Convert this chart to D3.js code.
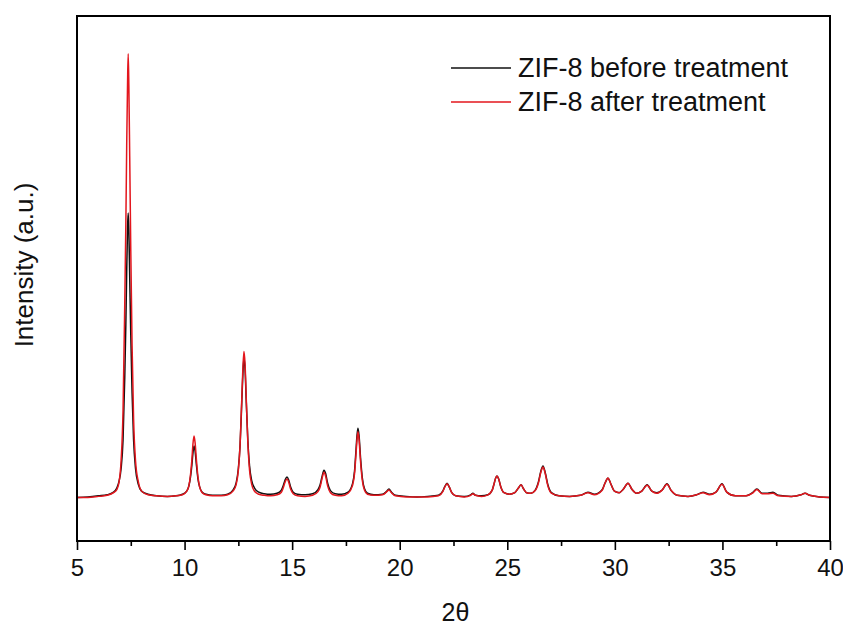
<!DOCTYPE html>
<html>
<head>
<meta charset="utf-8">
<script src="https://cdn.jsdelivr.net/npm/d3@7"></script>
<style>
  html, body { margin: 0; padding: 0; background: #fff; }
  svg { display: block; font-family: "Liberation Sans", Arial, sans-serif; }
</style>
</head>
<body>
<svg id="chart" width="843" height="625"></svg>
<script>
// XRD patterns of ZIF-8, sampled on a shared 2θ grid (denser across the reflections)
const twoTheta = [
  5.0, 5.5, 6.0, 6.4, 6.7, 6.85, 6.95, 7.05, 7.14, 7.22, 7.27, 7.31, 7.35, 7.38, 7.41, 7.45, 7.5, 7.56, 7.63, 7.72, 7.85, 8.0, 8.3, 8.7, 9.2,
  9.6, 9.9, 10.1, 10.2, 10.28, 10.34, 10.39, 10.44, 10.49, 10.55, 10.62, 10.7, 10.82, 11.0, 11.3, 11.7, 12.0, 12.25,
  12.4, 12.5, 12.58, 12.64, 12.7, 12.76, 12.81, 12.87, 12.94, 13.02, 13.12, 13.25, 13.45, 13.7, 14.0, 14.3,
  14.5, 14.6, 14.68, 14.76, 14.84, 14.93, 15.05, 15.25, 15.6, 15.95, 16.2,
  16.3, 16.38, 16.48, 16.56, 16.65, 16.78, 17.0, 17.3, 17.6, 17.8,
  17.9, 17.96, 18.02, 18.06, 18.11, 18.18, 18.26, 18.36, 18.5, 18.8, 19.2,
  19.38, 19.5, 19.62, 19.8, 20.3, 20.8, 21.3, 21.8,
  22.0, 22.1, 22.2, 22.3, 22.42, 22.6, 23.0, 23.3, 23.4, 23.52, 23.8, 24.1, 24.3,
  24.4, 24.46, 24.52, 24.6, 24.7, 24.85, 25.1, 25.35, 25.5, 25.64, 25.76, 25.9, 26.1,
  26.3, 26.45, 26.56, 26.66, 26.76, 26.88, 27.05, 27.4, 27.9, 28.4, 28.75, 29.05,
  29.4, 29.55, 29.68, 29.8, 29.98, 30.2, 30.4, 30.61, 30.8, 31.0, 31.25, 31.5, 31.72, 31.95,
  32.2, 32.42, 32.62, 32.9, 33.4, 33.8, 34.1, 34.4, 34.7, 34.98, 35.2, 35.6, 36.1,
  36.4, 36.6, 36.85, 37.1, 37.35, 37.6, 38.2, 38.65, 38.84, 39.05, 39.5, 40.0
];

const intensityBefore = [
  0, 1, 3, 5, 10, 18, 30, 55, 110, 230, 330, 430, 515, 542, 510, 420, 310, 200, 110, 55, 25, 12, 6, 3, 2,
  3, 6, 12, 22, 40, 62, 85, 98, 88, 62, 36, 20, 10, 6, 4, 4, 6, 14,
  28, 55, 100, 160, 225, 266, 245, 180, 110, 60, 32, 18, 10, 7, 6, 8,
  14, 24, 34, 39, 33, 20, 10, 6, 5, 7, 15,
  24, 38, 52, 45, 27, 13, 7, 6, 10, 25,
  50, 85, 120, 132, 118, 75, 38, 17, 8, 5, 6,
  11, 16, 10, 4, 2, 1, 2, 4,
  12, 21, 27, 20, 9, 3, 2, 5, 8, 4, 3, 5, 14,
  28, 37, 41, 35, 20, 9, 6, 9, 17, 24, 16, 9, 8,
  14, 30, 50, 60, 48, 25, 9, 3, 2, 4, 10, 6,
  14, 28, 37, 27, 12, 9, 16, 27, 15, 8, 12, 24, 12, 9,
  14, 26, 13, 4, 2, 5, 10, 6, 10, 26, 10, 3, 3,
  9, 16, 8, 8, 10, 4, 2, 5, 8, 4, 1, 0
];

const intensityAfter = [
  0, 0, 2, 4, 9, 15, 28, 70, 165, 370, 520, 670, 790, 845, 785, 650, 470, 290, 150, 70, 30, 12, 5, 3, 2,
  3, 5, 12, 22, 45, 72, 102, 117, 104, 72, 40, 20, 9, 5, 3, 3, 5, 12,
  25, 52, 100, 165, 235, 278, 255, 185, 105, 52, 25, 12, 6, 4, 3, 5,
  10, 20, 30, 35, 29, 16, 7, 3, 2, 4, 11,
  20, 34, 48, 40, 22, 9, 4, 3, 8, 22,
  45, 78, 112, 125, 110, 68, 33, 14, 6, 4, 5,
  10, 14, 9, 3, 1, 1, 1, 3,
  11, 20, 26, 20, 9, 3, 1, 4, 7, 4, 2, 5, 14,
  28, 37, 41, 35, 20, 9, 6, 9, 17, 24, 16, 9, 8,
  13, 28, 48, 58, 46, 23, 8, 3, 2, 4, 9, 5,
  13, 28, 37, 27, 12, 9, 16, 27, 15, 8, 12, 23, 12, 8,
  14, 25, 13, 4, 2, 5, 9, 5, 10, 25, 10, 3, 3,
  8, 15, 7, 7, 8, 3, 2, 5, 8, 4, 1, 0
];

const xTicks = [5, 10, 15, 20, 25, 30, 35, 40];
const xMinorTicks = [7.5, 12.5, 17.5, 22.5, 27.5, 32.5, 37.5];
const seriesNames = ["ZIF-8 before treatment", "ZIF-8 after treatment"];
const seriesColors = ["#111111", "#e3161d"];
const xTitle = "2θ";
const yTitle = "Intensity (a.u.)";

const margin = { left: 77, right: 13, top: 16, bottom: 84 };
const W = 843, H = 625;
const plotW = W - margin.left - margin.right;
const plotH = H - margin.top - margin.bottom;

const svg = d3.select("#chart");
const g = svg.append("g").attr("transform", `translate(${margin.left},${margin.top})`);

const x = d3.scaleLinear().domain([5, 40]).range([0, plotW]);
const y = d3.scaleLinear().domain([-83, 917]).range([plotH, 0]);

// traces
const line = d3.line()
  .x(d => x(d[0]))
  .y(d => y(d[1]))
  .curve(d3.curveMonotoneX);

const series = [intensityBefore, intensityAfter].map(vals => twoTheta.map((t, i) => [t, vals[i]]));

g.append("defs").append("clipPath").attr("id", "plotClip")
  .append("rect").attr("width", plotW).attr("height", plotH);

const traces = g.append("g").attr("clip-path", "url(#plotClip)");
series.forEach((pts, i) => {
  traces.append("path")
    .datum(pts)
    .attr("fill", "none")
    .attr("stroke", seriesColors[i])
    .attr("stroke-width", 1.5)
    .attr("stroke-linejoin", "round")
    .attr("d", line);
});

// frame
g.append("rect")
  .attr("width", plotW).attr("height", plotH)
  .attr("fill", "none").attr("stroke", "#000").attr("stroke-width", 2);

// bottom axis: major ticks with labels, minor ticks without
const xAxis = d3.axisBottom(x).tickValues(xTicks).tickSize(9).tickPadding(9).tickFormat(d3.format("d"));
const ax = g.append("g").attr("transform", `translate(0,${plotH})`).call(xAxis);
ax.select(".domain").remove();
ax.selectAll(".tick line").attr("stroke", "#000").attr("stroke-width", 1.6);
ax.selectAll(".tick text").attr("font-size", 24).attr("fill", "#111")
  .attr("font-family", "'Liberation Sans', Arial, sans-serif");

const axMinor = d3.axisBottom(x).tickValues(xMinorTicks).tickSize(5).tickFormat("");
const mx = g.append("g").attr("transform", `translate(0,${plotH})`).call(axMinor);
mx.select(".domain").remove();
mx.selectAll(".tick line").attr("stroke", "#000").attr("stroke-width", 1.6);

// axis titles
svg.append("text")
  .attr("x", margin.left + plotW / 2 + 2).attr("y", 621)
  .attr("text-anchor", "middle").attr("font-size", 25).attr("fill", "#111")
  .text(xTitle);

svg.append("text")
  .attr("transform", "translate(33,265) rotate(-90)")
  .attr("text-anchor", "middle").attr("font-size", 26).attr("fill", "#111")
  .text(yTitle);

// legend
const legend = svg.append("g").attr("transform", "translate(451,68)");
seriesNames.forEach((name, i) => {
  const row = legend.append("g").attr("transform", `translate(0,${i * 34})`);
  row.append("line").attr("x1", 0).attr("x2", 60).attr("y1", 0).attr("y2", 0)
    .attr("stroke", seriesColors[i]).attr("stroke-width", 1.5);
  row.append("text").attr("x", 67).attr("y", 9)
    .attr("font-size", 27).attr("fill", "#111").text(name);
});
</script>
</body>
</html>
